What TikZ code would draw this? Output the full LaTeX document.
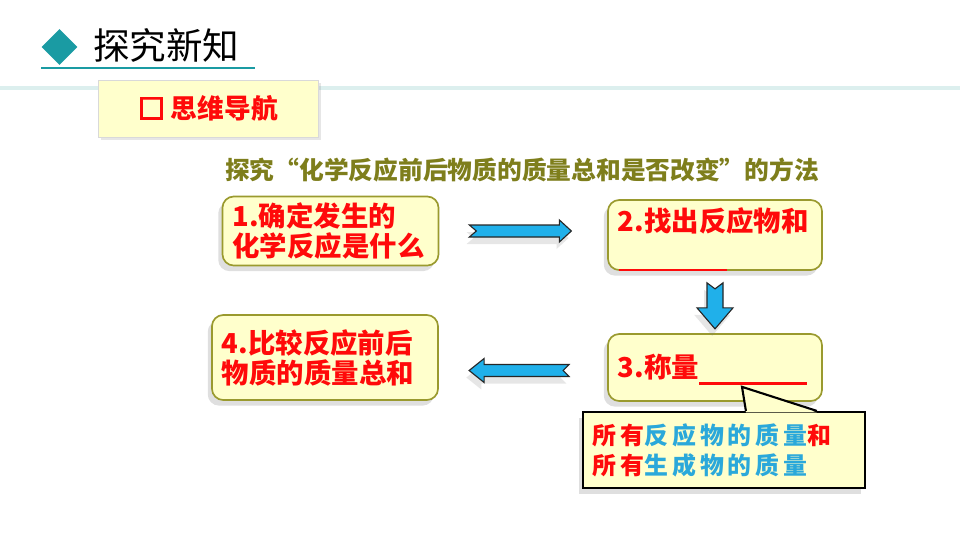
\documentclass[tikz,border=0pt]{standalone}
\usepackage{fontspec}
\setmainfont{Noto Sans CJK SC}
\newfontfamily\notefont[LetterSpace=16]{Noto Sans CJK SC}
\usetikzlibrary{calc,shapes.geometric,shadows}
\definecolor{teal-mark}{HTML}{1A9BA3}
\definecolor{teal-soft}{HTML}{DCEFEE}
\definecolor{box-fill}{HTML}{FFFFCC}
\definecolor{box-line}{HTML}{9A9A2E}
\definecolor{step-red}{HTML}{FF0A0A}
\definecolor{head-olive}{HTML}{7E7E1C}
\definecolor{flow-blue}{HTML}{20B0EA}
\definecolor{note-blue}{HTML}{2AA8DA}
\tikzstyle{step-box} = [draw=box-line, fill=box-fill, line width=1.2pt,
    rounded corners=8pt, rectangle, inner xsep=0.25cm, inner ysep=0pt,
    align=left, text=step-red,
    font=\fontsize{19.5}{21.3}\selectfont\bfseries,
    drop shadow={shadow xshift=-3pt, shadow yshift=-4pt, opacity=0.25}]
\tikzstyle{nav-box} = [draw=black!15, fill=box-fill, rectangle,
    minimum width=5.5cm, minimum height=1.425cm, text=step-red,
    font=\fontsize{19}{21}\selectfont\bfseries,
    drop shadow={shadow xshift=2pt, shadow yshift=-2pt, opacity=0.2}]
\tikzstyle{flow-arrow} = [draw=black!85, fill=flow-blue, line width=0.8pt,
    line join=miter,
    drop shadow={shadow xshift=-2pt, shadow yshift=-5pt, opacity=0.2}]
\tikzstyle{note-box} = [draw=black, fill=box-fill, line width=1.5pt,
    rectangle, minimum width=7.05cm, minimum height=1.9cm,
    inner xsep=0.25cm, text width=6.55cm, align=left,
    font=\notefont\fontsize{17}{21.3}\selectfont\bfseries,
    drop shadow={shadow xshift=-3pt, shadow yshift=-4pt, opacity=0.25}]
\tikzstyle{blank-line} = [draw=step-red, line width=1.5pt]

\begin{document}
\begin{tikzpicture}[x=0.025cm,y=-0.025cm]
\useasboundingbox (0,0) rectangle (960,540);
\draw[teal-soft, line width=3pt] (0,88) -- (960,88);
\node[diamond, fill=teal-mark, minimum width=0.9cm, minimum height=0.9cm,
    inner sep=0pt] (mark) at (59.5,47) {};
\node[anchor=west, inner sep=0pt, font=\fontsize{26}{28}\selectfont]
    (title) at (93,45) {探究新知};
\draw[teal-mark, line width=2pt] (41,68) -- (255,68);
\node[nav-box] (nav) at (208,108.5) {{\addfontfeature{FakeBold=5}□} 思维导航};
\node[text=head-olive, font=\fontsize{17.6}{20}\selectfont\bfseries]
    (method) at (522,170) {探究“化学反应前后物质的质量总和是否改变”的方法};

\node[step-box, minimum width=5.4cm, minimum height=1.725cm, text width=4.9cm]
    (box1) at (330.5,231) {1.确定发生的\\化学反应是什么};
\node[step-box, minimum width=5.35cm, minimum height=1.75cm, text width=4.85cm]
    (box2) at (715,235) {2.找出反应物和\\\mbox{}};
\node[step-box, minimum width=5.35cm, minimum height=1.675cm, text width=4.85cm]
    (box3) at (715,367.5) {3.称量\hspace{77pt}};
\node[step-box, minimum width=5.65cm, minimum height=2.125cm, text width=5.15cm]
    (box4) at (325,357.5) {4.比较反应前后\\物质的质量总和};
\draw[blank-line] ($(box2.south west)+(12,-1)$) -- ++(108,0);
\draw[blank-line] ($(box3.west)+(92,16)$) -- ++(108,0);

\draw[flow-arrow] ($(box1.east)+(30,-6)$) -- ++(90,0) -- ++(0,-5)
    -- ++(12,11) -- ++(-12,11) -- ++(0,-5) -- ++(-90,0) -- ++(7,-6) -- cycle;
\draw[flow-arrow] ($(box2.south)+(-8,12)$) -- ++(8,6) -- ++(8,-6)
    -- ++(0,25) -- ++(10,0) -- ++(-18,21) -- ++(-18,-21) -- ++(10,0) -- cycle;
\draw[flow-arrow] ($(box3.west)+(-38,-3)$) -- ++(-85,0) -- ++(0,-6)
    -- ++(-15,12) -- ++(15,12) -- ++(0,-6) -- ++(85,0) -- ++(-6,-6) -- cycle;

\node[note-box] (note) at (724,450) {%
    \textcolor{step-red}{所有}\textcolor{note-blue}{反应物的质量}\textcolor{step-red}{和}\\
    \textcolor{step-red}{所有}\textcolor{note-blue}{生成物的质量}};
\coordinate (tip) at ($(box3.south)+(27,-15)$);
\fill[box-fill] ($(note.north west)+(164,1.5)$) -- (tip)
    -- ($(note.north west)+(235,1.5)$) -- cycle;
\draw[black, line width=1.5pt, line join=miter] ($(note.north west)+(164,0)$)
    -- (tip) -- ($(note.north west)+(235,0)$);
\end{tikzpicture}
\end{document}
